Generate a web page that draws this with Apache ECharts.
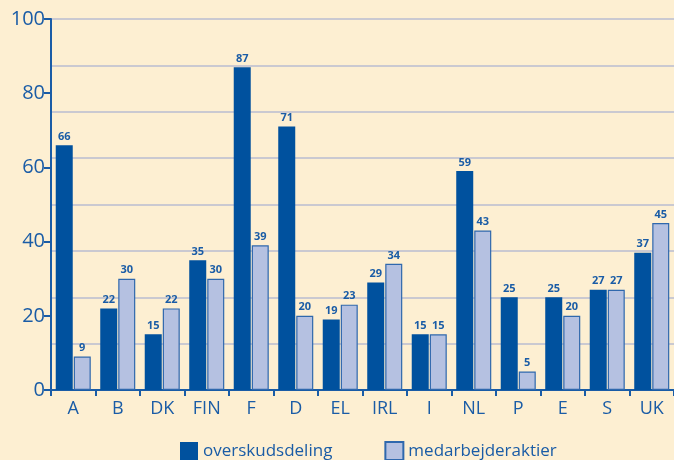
<!DOCTYPE html>
<html>
<head>
<meta charset="utf-8">
<script src="https://cdn.jsdelivr.net/npm/echarts@6/dist/echarts.min.js"></script>
<style>
html,body{margin:0;padding:0;background:#fdefd2;}
#chart{width:674px;height:460px;}
</style>
</head>
<body>
<div id="chart"></div>
<script>
const categories = ["A","B","DK","FIN","F","D","EL","IRL","I","NL","P","E","S","UK"];
const overskudsdeling = [66,22,15,35,87,71,19,29,15,59,25,25,27,37];
const medarbejderaktier = [9,30,22,30,39,20,23,34,15,43,5,20,27,45];
const seriesNames = ["overskudsdeling","medarbejderaktier"];
const yTicks = [0,20,40,60,80,100];

const blue = "#1a5ca6";
const chart = echarts.init(document.getElementById('chart'));
chart.setOption({
  backgroundColor: "#fdefd2",
  animation: false,
  textStyle: {fontFamily: "Open Sans"},
  grid: {left: 51, right: 0, top: 19, bottom: 70},
  legend: {
    bottom: -6, left: 175,
    icon: "rect",
    itemWidth: 18, itemHeight: 18, itemGap: 52,
    textStyle: {color: blue, fontSize: 17, fontFamily: "Open Sans"},
    data: seriesNames
  },
  xAxis: [{
    type: "category", data: categories,
    axisLine: {lineStyle: {color: blue, width: 2}},
    axisTick: {show: true, length: 6, lineStyle: {color: blue, width: 2}, alignWithLabel: false},
    axisLabel: {color: blue, fontSize: 18, margin: 10}
  }, {
    type: "category", data: categories, position: "top",
    axisLine: {show: true, lineStyle: {color: blue, width: 2}},
    axisTick: {show: false}, axisLabel: {show: false}
  }],
  yAxis: [{
    type: "value", min: 0, max: 100, interval: 20,
    axisLine: {show: true, lineStyle: {color: blue, width: 2}},
    axisTick: {show: true, length: 7, lineStyle: {color: blue, width: 2}},
    axisLabel: {color: blue, fontSize: 20, margin: 6,
      formatter: v => yTicks.includes(v) ? String(v) : ""},
    splitLine: {show: false}
  }, {
    type: "value", min: 0, max: 100, interval: 12.5, position: "left",
    axisLine: {show: false}, axisTick: {show: false}, axisLabel: {show: false},
    splitLine: {show: true, lineStyle: {color: "#b9bdd0", width: 1.5}}
  }],
  series: [{
    name: seriesNames[0], type: "bar", data: overskudsdeling,
    barWidth: 17, barGap: "6%",
    itemStyle: {color: "#00519e"},
    label: {show: true, position: "top", color: blue, fontSize: 11, fontWeight: "bold", distance: 3}
  }, {
    name: seriesNames[1], type: "bar", data: medarbejderaktier,
    barWidth: 17,
    itemStyle: {color: "#b5c1e1", borderColor: "#2f68ad", borderWidth: 1.2},
    label: {show: true, position: "top", color: blue, fontSize: 11, fontWeight: "bold", distance: 3}
  }]
});
</script>
</body>
</html>
